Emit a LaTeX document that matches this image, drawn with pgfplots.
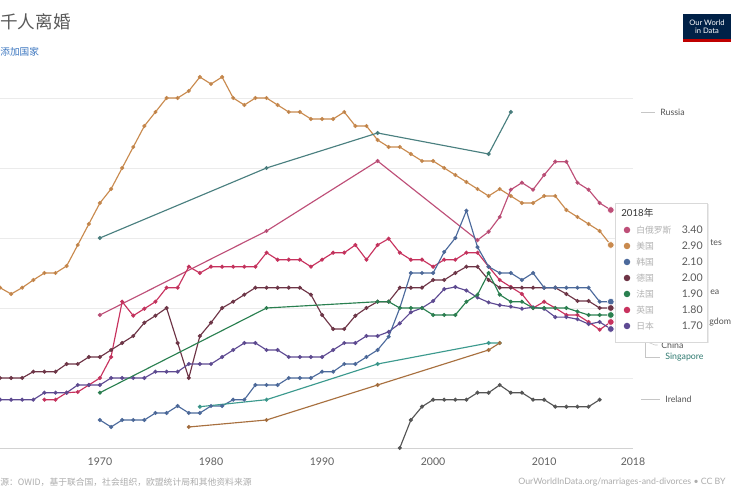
\documentclass[border=0pt]{standalone}
\usepackage{pgfplots}
\pgfplotsset{compat=1.18}
\usepackage{fontspec}
\setmainfont{Lato}
\newfontfamily\cjk{Noto Sans CJK SC}
\definecolor{cUS}{HTML}{C98A4E}
\definecolor{cBY}{HTML}{BE4F78}
\definecolor{cKR}{HTML}{4C6A9C}
\definecolor{cDE}{HTML}{6E3446}
\definecolor{cFR}{HTML}{2A8050}
\definecolor{cUK}{HTML}{C8325E}
\definecolor{cJP}{HTML}{5E4A93}
\definecolor{cRU}{HTML}{4A8080}
\definecolor{cCN}{HTML}{A8703F}
\definecolor{cSG}{HTML}{3C9A8E}
\definecolor{cIE}{HTML}{555555}
\definecolor{owid}{HTML}{002147}
\definecolor{linkblue}{HTML}{3B76C0}
\begin{document}
\begin{tikzpicture}
\useasboundingbox (0,0) rectangle (15,10);
\fill[white] (0,0) rectangle (15,10);
\begin{axis}[
  at={(0cm,1.04cm)}, anchor=south west,
  scale only axis, width=12.66cm, height=7.7cm,
  xmin=1961, xmax=2018, ymin=0, ymax=5.5,
  axis lines*=left,
  x axis line style={gray!35},
  y axis line style={draw=none},
  ytick={0,1,2,3,4,5}, yticklabels={},
  ymajorgrids, grid style={gray!16, line width=0.4pt},
  xtick={1970,1980,1990,2000,2010,2018},
  major tick length=0pt,
  /pgf/number format/assume math mode=true,
  xticklabel style={font=\fontsize{6}{7}\selectfont, text=gray!75!black, /pgf/number format/1000 sep={}, yshift=-2pt},
  every axis plot/.append style={line width=0.65pt, mark=*, mark size=0.8pt, mark options={fill=black!65, draw=none, solid}},
]
\draw[gray!25, line width=0.4pt] (axis cs:2018,0) -- (axis cs:2018,5.0);
% United States
\addplot[cUS] coordinates {(1960,2.2)(1961,2.29)(1962,2.2)(1963,2.29)(1964,2.4)(1965,2.5)(1966,2.5)(1967,2.6)(1968,2.9)(1969,3.2)(1970,3.5)(1971,3.7)(1972,4.0)(1973,4.3)(1974,4.6)(1975,4.8)(1976,5.0)(1977,5.0)(1978,5.1)(1979,5.3)(1980,5.2)(1981,5.3)(1982,5.0)(1983,4.9)(1984,5.0)(1985,5.0)(1986,4.9)(1987,4.8)(1988,4.8)(1989,4.7)(1990,4.7)(1991,4.7)(1992,4.8)(1993,4.6)(1994,4.6)(1995,4.4)(1996,4.3)(1997,4.3)(1998,4.2)(1999,4.1)(2000,4.1)(2001,4.0)(2002,3.9)(2003,3.8)(2004,3.7)(2005,3.6)(2006,3.7)(2007,3.6)(2008,3.5)(2009,3.5)(2010,3.6)(2011,3.6)(2012,3.4)(2013,3.3)(2014,3.2)(2015,3.1)(2016,2.9)};
% Russia
\addplot[cRU] coordinates {(1970,3.0)(1985,4.0)(1995,4.5)(2005,4.2)(2007,4.8)};
% Belarus
\addplot[cBY] coordinates {(1970,1.9)(1985,3.1)(1995,4.1)(2004,2.97)(2005,3.09)(2006,3.3)(2007,3.69)(2008,3.79)(2009,3.69)(2010,3.9)(2011,4.09)(2012,4.09)(2013,3.79)(2014,3.69)(2015,3.5)(2016,3.4)};
% United Kingdom
\addplot[cUK] coordinates {(1965,0.69)(1966,0.69)(1967,0.79)(1968,0.8)(1969,0.9)(1970,1.0)(1971,1.3)(1972,2.09)(1973,1.89)(1974,1.99)(1975,2.09)(1976,2.29)(1977,2.29)(1978,2.59)(1979,2.5)(1980,2.59)(1981,2.59)(1982,2.59)(1983,2.59)(1984,2.59)(1985,2.79)(1986,2.69)(1987,2.69)(1988,2.69)(1989,2.59)(1990,2.69)(1991,2.79)(1992,2.79)(1993,2.9)(1994,2.69)(1995,2.9)(1996,2.99)(1997,2.79)(1998,2.69)(1999,2.69)(2000,2.59)(2001,2.69)(2002,2.69)(2003,2.79)(2004,2.79)(2005,2.59)(2006,2.4)(2007,2.3)(2008,2.2)(2009,2.0)(2010,2.09)(2011,2.0)(2012,1.9)(2013,1.9)(2014,1.8)(2015,1.69)(2016,1.8)};
% Germany
\addplot[cDE] coordinates {(1960,1.0)(1961,1.0)(1962,1.0)(1963,1.0)(1964,1.09)(1965,1.09)(1966,1.09)(1967,1.2)(1968,1.2)(1969,1.3)(1970,1.3)(1971,1.4)(1972,1.5)(1973,1.6)(1974,1.79)(1975,1.89)(1976,2.0)(1977,1.5)(1978,1.0)(1979,1.6)(1980,1.79)(1981,2.0)(1982,2.09)(1983,2.19)(1984,2.29)(1985,2.29)(1986,2.29)(1987,2.29)(1988,2.29)(1989,2.19)(1990,1.9)(1991,1.7)(1992,1.7)(1993,1.89)(1994,2.0)(1995,2.09)(1996,2.09)(1997,2.29)(1998,2.29)(1999,2.29)(2000,2.4)(2001,2.4)(2002,2.5)(2003,2.59)(2004,2.59)(2005,2.4)(2006,2.29)(2007,2.29)(2008,2.29)(2009,2.29)(2010,2.29)(2011,2.29)(2012,2.2)(2013,2.1)(2014,2.1)(2015,2.0)(2016,2.0)};
% Japan
\addplot[cJP] coordinates {(1960,0.69)(1961,0.69)(1962,0.69)(1963,0.69)(1964,0.69)(1965,0.79)(1966,0.79)(1967,0.79)(1968,0.9)(1969,0.9)(1970,0.9)(1971,1.0)(1972,1.0)(1973,1.0)(1974,1.0)(1975,1.09)(1976,1.09)(1977,1.09)(1978,1.2)(1979,1.2)(1980,1.2)(1981,1.3)(1982,1.4)(1983,1.5)(1984,1.5)(1985,1.4)(1986,1.4)(1987,1.3)(1988,1.3)(1989,1.3)(1990,1.3)(1991,1.4)(1992,1.5)(1993,1.5)(1994,1.6)(1995,1.6)(1996,1.66)(1997,1.78)(1998,1.94)(1999,2.0)(2000,2.1)(2001,2.27)(2002,2.3)(2003,2.25)(2004,2.15)(2005,2.08)(2006,2.04)(2007,2.02)(2008,1.99)(2009,2.01)(2010,1.99)(2011,1.87)(2012,1.87)(2013,1.84)(2014,1.77)(2015,1.8)(2016,1.7)};
% South Korea
\addplot[cKR] coordinates {(1970,0.4)(1971,0.3)(1972,0.4)(1973,0.4)(1974,0.4)(1975,0.5)(1976,0.5)(1977,0.6)(1978,0.5)(1979,0.5)(1980,0.6)(1981,0.6)(1982,0.69)(1983,0.69)(1984,0.9)(1985,0.9)(1986,0.9)(1987,1.0)(1988,1.0)(1989,1.0)(1990,1.09)(1991,1.09)(1992,1.2)(1993,1.2)(1994,1.3)(1995,1.4)(1996,1.59)(1997,2.0)(1998,2.5)(1999,2.5)(2000,2.5)(2001,2.8)(2002,3.0)(2003,3.39)(2004,2.87)(2005,2.59)(2006,2.5)(2007,2.5)(2008,2.4)(2009,2.5)(2010,2.29)(2011,2.29)(2012,2.29)(2013,2.29)(2014,2.29)(2015,2.09)(2016,2.09)};
% France
\addplot[cFR] coordinates {(1970,0.79)(1985,2.0)(1995,2.09)(1996,2.09)(1997,2.0)(1998,2.0)(1999,2.0)(2000,1.9)(2001,1.9)(2002,1.9)(2003,2.09)(2004,2.19)(2005,2.5)(2006,2.19)(2007,2.09)(2008,2.09)(2009,2.0)(2010,2.0)(2011,2.0)(2012,2.0)(2013,1.95)(2014,1.9)(2015,1.9)(2016,1.9)};
% Singapore
\addplot[cSG] coordinates {(1979,0.59)(1985,0.69)(1995,1.2)(2005,1.5)(2006,1.5)};
% China
\addplot[cCN] coordinates {(1978,0.3)(1985,0.4)(1995,0.9)(2005,1.4)(2006,1.5)};
% Ireland
\addplot[cIE] coordinates {(1997,0.0)(1998,0.4)(1999,0.59)(2000,0.69)(2001,0.69)(2002,0.69)(2003,0.69)(2004,0.79)(2005,0.79)(2006,0.9)(2007,0.79)(2008,0.79)(2009,0.69)(2010,0.69)(2011,0.59)(2012,0.59)(2013,0.59)(2014,0.59)(2015,0.69)};
% end points
\addplot[only marks, mark=*, mark size=1.9pt, mark options={fill=cBY, draw=white, line width=0.3pt}] coordinates {(2016,3.4)};
\addplot[only marks, mark=*, mark size=1.9pt, mark options={fill=cUS, draw=white, line width=0.3pt}] coordinates {(2016,2.9)};
\addplot[only marks, mark=*, mark size=1.9pt, mark options={fill=cKR, draw=white, line width=0.3pt}] coordinates {(2016,2.09)};
\addplot[only marks, mark=*, mark size=1.9pt, mark options={fill=cDE, draw=white, line width=0.3pt}] coordinates {(2016,2.0)};
\addplot[only marks, mark=*, mark size=1.9pt, mark options={fill=cFR, draw=white, line width=0.3pt}] coordinates {(2016,1.9)};
\addplot[only marks, mark=*, mark size=1.9pt, mark options={fill=cUK, draw=white, line width=0.3pt}] coordinates {(2016,1.8)};
\addplot[only marks, mark=*, mark size=1.9pt, mark options={fill=cJP, draw=white, line width=0.3pt}] coordinates {(2016,1.7)};
\end{axis}
% title and subtitle
\node[anchor=west, inner sep=0pt, text=gray!70!black] at (0,9.56) {\cjk\fontsize{10}{12}\selectfont 千人离婚};
\node[anchor=west, inner sep=0pt, text=linkblue] at (0,8.96) {\cjk\fontsize{5.5}{6}\selectfont 添加国家};
% logo
\fill[owid] (13.66,9.16) rectangle (14.62,9.72);
\fill[red!75!black] (13.66,9.16) rectangle (14.62,9.21);
\node[text=white, inner sep=0pt, align=center, font=\fontsize{4.3}{4.8}\selectfont] at (14.14,9.46) {Our World\\in Data};
% line labels
\def\lbl{\fontsize{5}{6}\selectfont}
\draw[gray!45, line width=0.3pt] (12.82,7.76) -- (13.1,7.76);
\node[anchor=west, inner sep=0pt, text=gray!65!black, font=\lbl] at (13.2,7.76) {Russia};
\node[anchor=west, inner sep=0pt, text=gray!65!black, font=\lbl] at (14.2,5.14) {tes};
\node[anchor=west, inner sep=0pt, text=gray!65!black, font=\lbl] at (14.2,4.16) {ea};
\node[anchor=west, inner sep=0pt, text=gray!65!black, font=\lbl] at (14.18,3.56) {gdom};
\draw[gray!45, line width=0.3pt] (12.84,3.2) -- (13.1,3.1) -- (13.15,3.1);
\draw[gray!45, line width=0.3pt] (12.9,3.2) -- (12.9,2.86) -- (13.2,2.86);
\node[anchor=west, inner sep=0pt, text=gray!65!black, font=\lbl] at (13.22,3.1) {China};
\node[anchor=west, inner sep=0pt, text=cSG!80!black, font=\lbl] at (13.3,2.86) {Singapore};
\draw[gray!45, line width=0.3pt] (12.82,2.02) -- (13.2,2.02);
\node[anchor=west, inner sep=0pt, text=gray!65!black, font=\lbl] at (13.3,2.02) {Ireland};
% tooltip
\fill[black!8] (12.33,3.13) rectangle (14.17,5.91);
\filldraw[fill=white, draw=gray!30, line width=0.3pt] (12.3,3.16) rectangle (14.14,5.94);
\node[anchor=west, inner sep=0pt, text=black!80, font=\fontsize{5.5}{6}\selectfont] at (12.42,5.74) {2018{\cjk 年}};
\foreach \yy/\cc/\nn/\vv in {5.4/cBY/白俄罗斯/3.40, 5.08/cUS/美国/2.90, 4.76/cKR/韩国/2.10, 4.44/cDE/德国/2.00, 4.12/cFR/法国/1.90, 3.8/cUK/英国/1.80, 3.48/cJP/日本/1.70}{
  \fill[\cc] (12.54,\yy) circle (0.065);
  \node[anchor=west, inner sep=0pt, text=gray!60, font=\fontsize{5}{6}\selectfont] at (12.72,\yy) {\cjk \nn};
  \node[anchor=east, inner sep=0pt, text=gray!70!black, font=\fontsize{6}{7}\selectfont] at (14.06,\yy) {\vv};
}
% footer
\node[anchor=west, inner sep=0pt, text=gray!65, font=\fontsize{5}{6}\selectfont] at (0,0.36) {\cjk 源：OWID，基于联合国，社会组织，欧盟统计局和其他资料来源};
\node[anchor=east, inner sep=0pt, text=gray!65, font=\fontsize{5}{6}\selectfont] at (14.52,0.36) {OurWorldInData.org/marriages-and-divorces • CC BY};
\end{tikzpicture}
\end{document}
